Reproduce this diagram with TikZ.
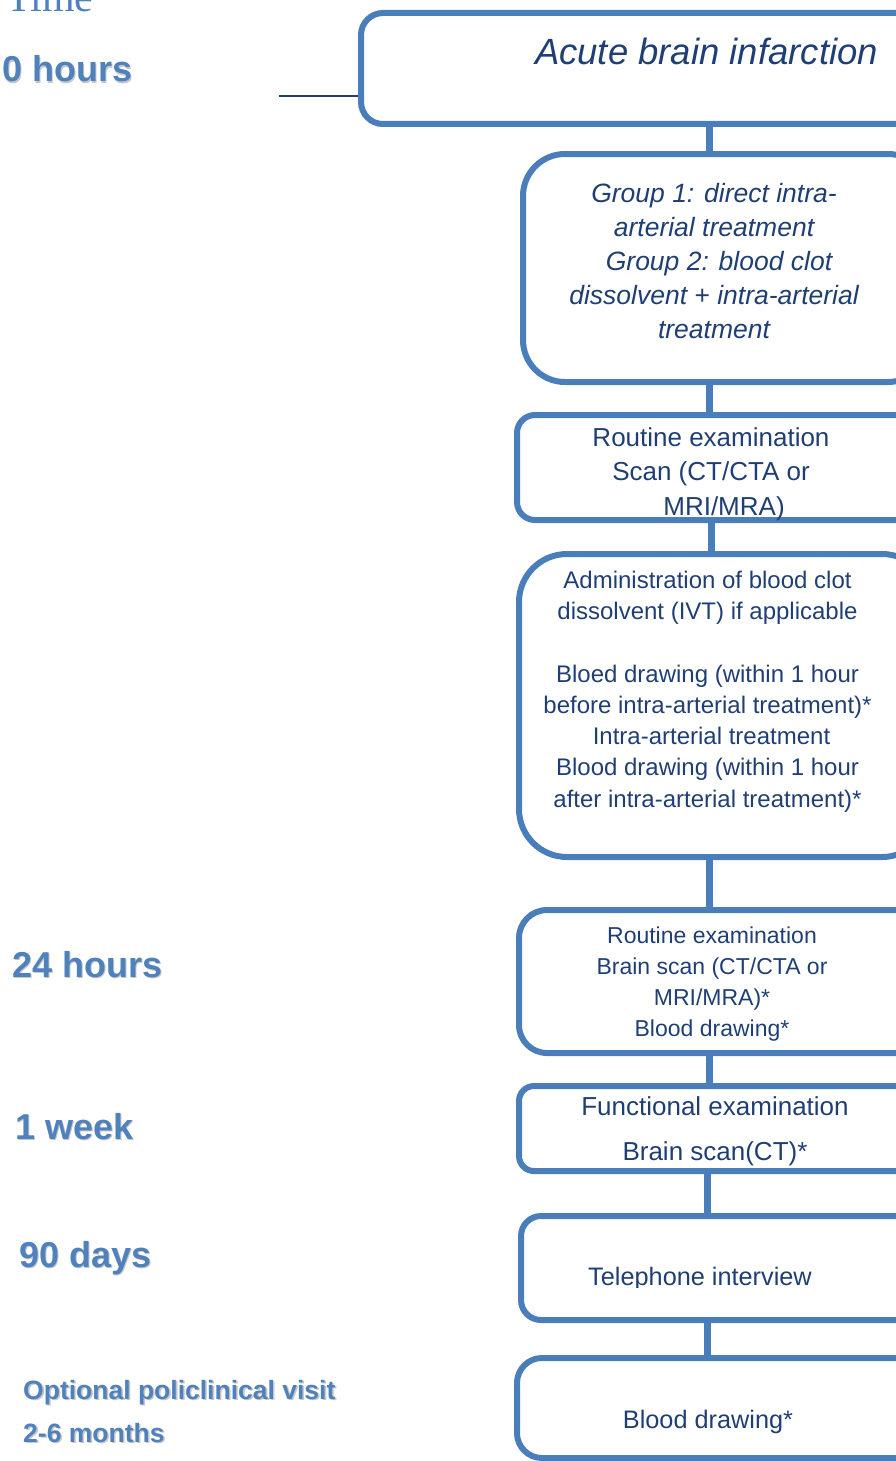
\documentclass[tikz,border=0pt]{standalone}
\usepackage{fontspec}
\setmainfont{Liberation Sans}
\newfontfamily\timesfont{Liberation Serif}
\definecolor{boxblue}{HTML}{4A7EBB}
\definecolor{labelblue}{HTML}{4F81BD}
\definecolor{txtblue}{HTML}{1F3F74}
\newcommand\shadowed[1]{\makebox[0pt][l]{\hspace{1.6pt}\raisebox{-1.6pt}{\textcolor{black!22}{#1}}}#1}
\tikzset{
  stage/.style={draw=boxblue, line width=6pt, rounded corners=#1, inner sep=0pt},
  link/.style={draw=boxblue, line width=7pt},
  timelabel/.style={anchor=base west, text=labelblue, inner sep=0pt,
    font=\fontsize{36}{40}\selectfont\bfseries},
  smalllabel/.style={anchor=base west, text=labelblue, inner sep=0pt,
    font=\fontsize{26.5}{30}\selectfont\bfseries},
  boxtext/.style={text=txtblue, inner sep=0pt, align=center},
}
\begin{document}
\begin{tikzpicture}[x=1pt,y=-1pt]
\useasboundingbox (0,0) rectangle (896,1461);
\clip (0,0) rectangle (896,1461);

% boxes
\node[stage=22, minimum width=599pt, minimum height=111pt] (b1) at (660.5,68.5) {};
\node[stage=42, minimum width=407pt, minimum height=228pt] (b2) at (726.5,268) {};
\node[stage=18, minimum width=413pt, minimum height=105pt] (b3) at (723.5,467.5) {};
\node[stage=48, minimum width=411pt, minimum height=303pt] (b4) at (724.5,705.5) {};
\node[stage=28, minimum width=411pt, minimum height=143pt] (b5) at (724.5,981.5) {};
\node[stage=15, minimum width=411pt, minimum height=85pt] (b6) at (724.5,1128.5) {};
\node[stage=20, minimum width=409pt, minimum height=104pt] (b7) at (725.5,1268) {};
\node[stage=25, minimum width=413pt, minimum height=100pt] (b8) at (723.5,1408) {};

% connectors
\coordinate (cxa) at (709,0);
\coordinate (cxb) at (711,0);
\coordinate (cxc) at (707,0);
\draw[link] (b1.south -| cxa) -- (b2.north -| cxa);
\draw[link] (b2.south -| cxa) -- (b3.north -| cxa);
\draw[link] (b3.south -| cxb) -- (b4.north -| cxb);
\draw[link] (b4.south -| cxa) -- (b5.north -| cxa);
\draw[link] (b5.south -| cxa) -- (b6.north -| cxa);
\draw[link] (b6.south -| cxc) -- (b7.north -| cxc);
\draw[link] (b7.south -| cxc) -- (b8.north -| cxc);

% thin line to first box
\coordinate (tl) at (279,96);
\draw[txtblue, line width=1.5pt] (tl) -- (tl -| b1.west);

% box texts
\node[boxtext, anchor=base, font=\fontsize{36.5}{40}\selectfont\itshape] (t1) at (706.5,65) {Acute brain infarction};
\node[boxtext, font=\fontsize{26.5}{34}\selectfont\itshape] (t2) at (714,261.5)
  {Group 1: direct intra-\\ arterial treatment\\ \hspace*{10pt}Group 2: blood clot\\ dissolvent {\upshape +} intra-arterial\\ treatment};
\node[boxtext, font=\fontsize{26}{34.5}\selectfont] (t3) at (711,474)
  {Routine examination\\ Scan (CT/CTA or\\ \hspace*{26pt}MRI/MRA)};
\node[boxtext, font=\fontsize{24}{31.3}\selectfont] (t4) at (707.5,691.5)
  {Administration of blood clot\\ dissolvent (IVT) if applicable\\ \mbox{}\\ Bloed drawing (within 1 hour\\ before intra-arterial treatment)*\\ \hspace*{8pt}Intra-arterial treatment\\ Blood drawing (within 1 hour\\ after intra-arterial treatment)*};
\node[boxtext, font=\fontsize{23}{31}\selectfont] (t5) at (712,984)
  {Routine examination\\ Brain scan (CT/CTA or\\ MRI/MRA)*\\ Blood drawing*};
\node[boxtext, font=\fontsize{26}{45}\selectfont] (t6) at (715,1131)
  {Functional examination\\ Brain scan(CT)*};
\begin{scope}
  \clip (500,1240) rectangle (896,1287);
  \node[boxtext, anchor=base, font=\fontsize{25.3}{30}\selectfont] (t7) at (700,1285) {Telephone interview};
\end{scope}
\node[boxtext, anchor=base, font=\fontsize{25.3}{30}\selectfont] (t8) at (708,1428) {Blood drawing*};

% time labels
\node[anchor=base west, text=labelblue, inner sep=0pt, font=\timesfont\fontsize{42}{46}\selectfont] (time) at (6,12) {Time};
\node[timelabel] (l0) at (2,82) {\shadowed{0 hours}};
\node[timelabel] (l24) at (12,977) {\shadowed{24 hours}};
\node[timelabel] (l1w) at (15,1139) {\shadowed{1 week}};
\node[timelabel] (l90) at (19,1267) {\shadowed{90 days}};
\node[smalllabel] (lopt) at (23,1399) {\shadowed{Optional policlinical visit}};
\node[smalllabel] (lmon) at (23,1442) {\shadowed{2-6 months}};
\end{tikzpicture}
\end{document}
